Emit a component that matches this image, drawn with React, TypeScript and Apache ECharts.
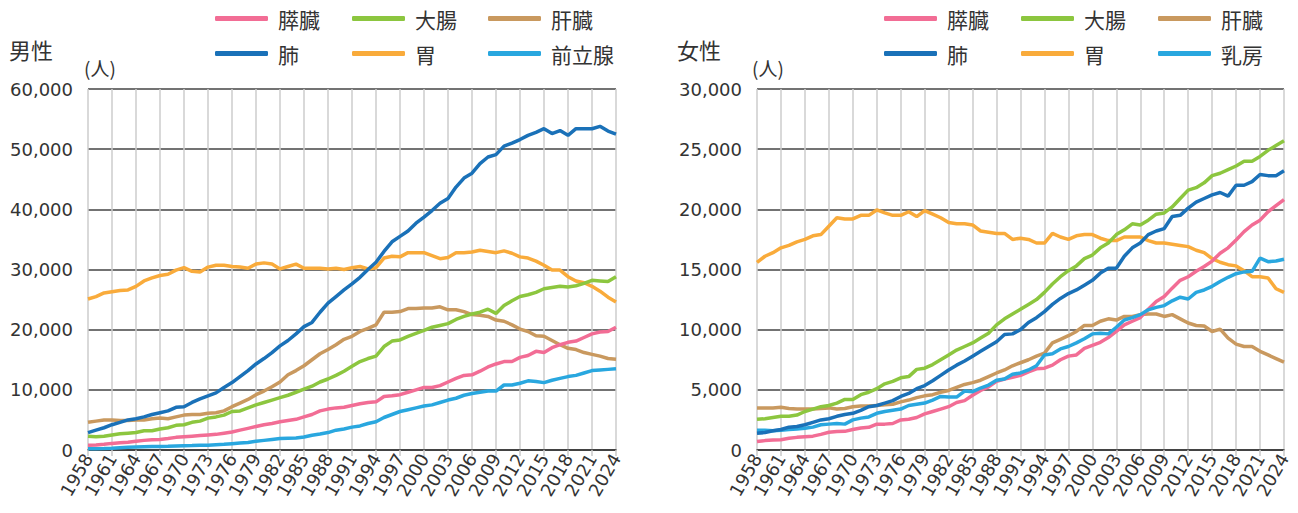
import React, { useEffect, useRef } from "react";
import * as echarts from "echarts";

const years: string[] = [];
for (let y = 1958; y <= 2024; y++) years.push(String(y));

const yTicksMale = [0, 10000, 20000, 30000, 40000, 50000, 60000];
const yTicksFemale = [0, 5000, 10000, 15000, 20000, 25000, 30000];

const malePancreas = [
  800, 850, 950, 1100, 1200, 1300, 1450, 1600, 1700, 1750,
  1900, 2100, 2200, 2300, 2400, 2500, 2600, 2800, 3000, 3300,
  3600, 3900, 4200, 4400, 4700, 4900, 5100, 5500, 5900, 6500,
  6800, 7000, 7100, 7400, 7700, 7900, 8000, 8900, 9000, 9200,
  9600, 10000, 10400, 10400, 10700, 11300, 11900, 12400, 12500, 13100,
  13800, 14300, 14700, 14700, 15400, 15700, 16400, 16200, 17000, 17500,
  17900, 18100, 18700, 19300, 19600, 19700, 20400,
];
const maleColorectal = [
  2300, 2200, 2300, 2500, 2700, 2800, 2900, 3200, 3200, 3500,
  3700, 4100, 4200, 4600, 4800, 5300, 5500, 5800, 6400, 6500,
  7000, 7500, 7900, 8300, 8700, 9100, 9600, 10100, 10600, 11300,
  11800, 12400, 13100, 13900, 14700, 15200, 15600, 17200, 18100, 18300,
  18900, 19400, 19900, 20400, 20700, 21000, 21700, 22200, 22600, 22900,
  23400, 22700, 24000, 24800, 25500, 25800, 26200, 26800, 27000, 27200,
  27100, 27300, 27700, 28200, 28100, 28000, 28800,
];
const maleLiver = [
  4600, 4800, 5000, 5000, 4900, 4900, 5000, 5000, 5200, 5300,
  5200, 5500, 5800, 5900, 5900, 6100, 6200, 6500, 7200, 7800,
  8400, 9200, 9800, 10500, 11300, 12500, 13200, 14000, 15000, 16000,
  16700, 17500, 18400, 18900, 19700, 20200, 20800, 22900, 22900, 23000,
  23500, 23500, 23600, 23600, 23800, 23300, 23300, 23000, 22500, 22400,
  22200, 21600, 21400, 20800, 20100, 19700, 19000, 18900, 18200, 17500,
  16900, 16700, 16200, 15900, 15600, 15200, 15100,
];
const maleLung = [
  2900, 3300, 3700, 4200, 4600, 5000, 5200, 5500, 5900, 6200,
  6500, 7100, 7200, 7900, 8500, 9000, 9500, 10400, 11200, 12200,
  13200, 14300, 15200, 16200, 17300, 18200, 19300, 20500, 21200, 22900,
  24400, 25500, 26600, 27600, 28700, 30000, 31200, 33000, 34600, 35500,
  36400, 37700, 38700, 39800, 41000, 41800, 43700, 45200, 46000, 47600,
  48700, 49100, 50500, 51000, 51600, 52300, 52800, 53400, 52600, 53100,
  52300, 53400, 53400, 53400, 53800, 53000, 52500,
];
const maleStomach = [
  25100, 25500, 26100, 26300, 26500, 26600, 27200, 28100, 28600, 29000,
  29200, 29900, 30300, 29700, 29600, 30400, 30700, 30700, 30500, 30400,
  30200, 30900, 31100, 30900, 30100, 30500, 30900, 30200, 30200, 30200,
  30100, 30200, 30000, 30300, 30500, 30100, 30300, 31900, 32200, 32100,
  32800, 32800, 32800, 32300, 31800, 32000, 32800, 32800, 32900, 33200,
  33000, 32800, 33100, 32700, 32100, 31900, 31400, 30700, 29900, 29900,
  28800, 28100, 27800, 27200, 26400, 25400, 24600,
];
const maleProstate = [
  200, 220, 250, 300, 380, 450, 500, 550, 580, 600,
  620, 660, 700, 730, 770, 800, 880, 950, 1050, 1150,
  1250, 1450, 1600, 1750, 1900, 1950, 2000, 2150, 2450, 2650,
  2900, 3300, 3500, 3800, 4000, 4400, 4700, 5400, 5900, 6400,
  6700, 7000, 7300, 7500, 7900, 8300, 8600, 9100, 9400, 9600,
  9800, 9800, 10800, 10800, 11100, 11500, 11400, 11200, 11600, 11900,
  12200, 12400, 12800, 13200, 13300, 13400, 13500,
];

const femalePancreas = [
  700, 780, 830, 860, 970, 1050, 1100, 1150, 1300, 1470,
  1530, 1550, 1700, 1830, 1890, 2150, 2150, 2200, 2500, 2550,
  2700, 3000, 3200, 3400, 3600, 3950, 4100, 4550, 4950, 5250,
  5700, 5900, 6050, 6200, 6500, 6750, 6800, 7050, 7500, 7800,
  7900, 8450, 8700, 8950, 9350, 9850, 10400, 10700, 11000, 11700,
  12350, 12750, 13450, 14100, 14400, 14850, 15250, 15700, 16350, 16800,
  17450, 18150, 18700, 19100, 19800, 20300, 20800,
];
const femaleColorectal = [
  2550, 2600, 2700, 2800, 2800, 2900, 3200, 3400, 3600, 3700,
  3900, 4200, 4200, 4600, 4800, 5100, 5500, 5700, 6000, 6100,
  6700, 6800, 7100, 7500, 7900, 8300, 8600, 8900, 9300, 9700,
  10400, 10900, 11300, 11700, 12100, 12500, 13100, 13800, 14400, 14900,
  15300, 15900, 16200, 16800, 17200, 17900, 18300, 18800, 18700, 19100,
  19600, 19700, 20200, 20900, 21600, 21800, 22200, 22800, 23000, 23300,
  23600, 24000, 24000, 24400, 24900, 25300, 25700,
];
const femaleLiver = [
  3500, 3500, 3500, 3550, 3450, 3400, 3400, 3400, 3450, 3500,
  3400, 3450, 3600, 3650, 3650, 3700, 3750, 3800, 4000, 4150,
  4350, 4500, 4600, 4800, 4950, 5200, 5450, 5600, 5800, 6100,
  6400, 6650, 7000, 7250, 7500, 7800, 8050, 8900, 9200, 9500,
  9850, 10350, 10350, 10700, 10900, 10800, 11100, 11100, 11250, 11300,
  11300, 11100, 11250, 10900, 10550, 10350, 10300, 9850, 10050, 9300,
  8800, 8600, 8600, 8200, 7900, 7600, 7300,
];
const femaleLung = [
  1400, 1450, 1600, 1700, 1900, 1950, 2100, 2300, 2500, 2600,
  2800, 2950, 3050, 3300, 3600, 3700, 3900, 4100, 4450, 4700,
  5100, 5350, 5750, 6200, 6650, 7050, 7400, 7800, 8200, 8600,
  9000, 9600, 9650, 10000, 10600, 11000, 11500, 12100, 12600, 13000,
  13300, 13700, 14100, 14700, 15100, 15100, 16100, 16800, 17200, 17900,
  18200, 18400, 19400, 19500, 20100, 20600, 20900, 21200, 21400, 21100,
  22000, 22000, 22300, 22900, 22800, 22800, 23200,
];
const femaleStomach = [
  15600, 16100, 16400, 16800, 17000, 17300, 17500, 17800, 17900, 18600,
  19300, 19200, 19200, 19500, 19500, 19950, 19700, 19500, 19500, 19800,
  19400, 19900, 19600, 19300, 18900, 18800, 18800, 18700, 18200, 18100,
  18000, 18000, 17500, 17600, 17500, 17200, 17200, 18000, 17700, 17500,
  17800, 17900, 17900, 17600, 17400, 17400, 17700, 17700, 17700, 17400,
  17200, 17200, 17100, 17000, 16900, 16600, 16400, 15900, 15600, 15400,
  15300, 14900, 14400, 14400, 14300, 13400, 13100,
];
const femaleBreast = [
  1650, 1650, 1600, 1650, 1700, 1750, 1800, 1900, 2100, 2150,
  2200, 2150, 2500, 2650, 2750, 3050, 3200, 3300, 3400, 3700,
  3800, 3900, 4150, 4450, 4400, 4400, 4900, 4850, 5150, 5400,
  5800, 5900, 6300, 6400, 6650, 7000, 7900, 8000, 8400, 8600,
  8900, 9250, 9650, 9700, 9650, 10200, 10800, 11000, 11250, 11650,
  11850, 12000, 12400, 12700, 12550, 13100, 13300, 13600, 14000, 14350,
  14650, 14800, 14850, 15950, 15650, 15700, 15850,
];

const maleNames = ["膵臓", "大腸", "肝臓", "肺", "胃", "前立腺"];
const femaleNames = ["膵臓", "大腸", "肝臓", "肺", "胃", "乳房"];
const colors = ["#f26d95", "#8cc63f", "#c9995f", "#1a71b8", "#f9ab3b", "#29a7df"];

const FONT = "'Noto Sans CJK JP', 'Noto Sans', sans-serif";
const NUMFONT = "'DejaVu Sans', sans-serif";
const TEXT = "#333333";

export default function App() {
  const ref = useRef<HTMLDivElement>(null);
  useEffect(() => {
    if (!ref.current) return;
    const chart = echarts.init(ref.current, null, { renderer: "svg" });
    const maleData = [malePancreas, maleColorectal, maleLiver, maleLung, maleStomach, maleProstate];
    const femaleData = [femalePancreas, femaleColorectal, femaleLiver, femaleLung, femaleStomach, femaleBreast];

    const grids = [
      { left: 88, top: 89, width: 528, bottom: 63 },
      { left: 757, top: 89, width: 527, bottom: 63 },
    ];
    const xAxis = [0, 1].map((i) => ({
      type: "category",
      gridIndex: i,
      data: years,
      boundaryGap: false,
      axisLine: { show: true, lineStyle: { color: "#333", width: 1.5 } },
      axisTick: { show: true, interval: 2, length: 6, lineStyle: { color: "#c8c8c8", width: 1.5 } },
      splitLine: { show: true, interval: 2, lineStyle: { color: "#cccccc", width: 1.5 } },
      axisLabel: {
        interval: 2,
        rotate: 60,
        fontSize: 18,
        color: TEXT,
        fontFamily: NUMFONT,
        margin: 5,
        showMinLabel: true,
        showMaxLabel: true,
        hideOverlap: false,
      },
    }));
    const yTicks = [yTicksMale, yTicksFemale];
    const yAxis = [0, 1].map((i) => ({
      type: "value",
      gridIndex: i,
      min: yTicks[i][0],
      max: yTicks[i][yTicks[i].length - 1],
      interval: yTicks[i][1] - yTicks[i][0],
      axisLine: { show: false },
      axisTick: { show: false },
      splitLine: { show: true, lineStyle: { color: "#444", width: 1.5 } },
      axisLabel: {
        fontSize: 18,
        color: TEXT,
        fontFamily: NUMFONT,
        margin: 15,
        formatter: (v: number) => v.toLocaleString("en-US"),
      },
    }));

    const series: any[] = [];
    const order = [4, 2, 1, 0, 5, 3];
    order.forEach((k) => {
      series.push({
        type: "line",
        name: maleNames[k],
        xAxisIndex: 0,
        yAxisIndex: 0,
        data: maleData[k],
        symbol: "none",
        lineStyle: { width: 3.5, color: colors[k] },
        itemStyle: { color: colors[k] },
      });
    });
    order.forEach((k) => {
      series.push({
        type: "line",
        name: femaleNames[k],
        xAxisIndex: 1,
        yAxisIndex: 1,
        data: femaleData[k],
        symbol: "none",
        lineStyle: { width: 3.5, color: colors[k] },
        itemStyle: { color: colors[k] },
      });
    });

    const legendX = [
      [215, 352, 488],
      [884, 1021, 1158],
    ];
    const legendY = [8, 43];
    const legends: any[] = [];
    [maleNames, femaleNames].forEach((names, c) => {
      names.forEach((n, idx) => {
        legends.push({
          left: legendX[c][idx % 3],
          top: legendY[Math.floor(idx / 3)],
          data: [{ name: n, itemStyle: { color: colors[idx] } }],
          icon: "roundRect",
          itemWidth: 53,
          itemHeight: 5,
          padding: 0,
          textStyle: { fontSize: 21, color: TEXT, fontFamily: FONT, padding: [0, 0, 0, 5] },
        });
      });
    });

    chart.setOption({
      animation: false,
      backgroundColor: "#ffffff",
      grid: grids,
      xAxis,
      yAxis,
      legend: legends,
      series,
      graphic: [
        { type: "text", left: 9, top: 38, style: { text: "男性", fontSize: 22, fill: TEXT, fontFamily: FONT } },
        { type: "text", left: 84, top: 58, style: { text: "(人)", fontSize: 19, fill: TEXT, fontFamily: FONT } },
        { type: "text", left: 677, top: 38, style: { text: "女性", fontSize: 22, fill: TEXT, fontFamily: FONT } },
        { type: "text", left: 752, top: 58, style: { text: "(人)", fontSize: 19, fill: TEXT, fontFamily: FONT } },
      ],
    });
    return () => chart.dispose();
  }, []);
  return (
    <div
      ref={ref}
      style={{ position: "fixed", left: 0, top: 0, width: 1298, height: 513, background: "#fff" }}
    />
  );
}
